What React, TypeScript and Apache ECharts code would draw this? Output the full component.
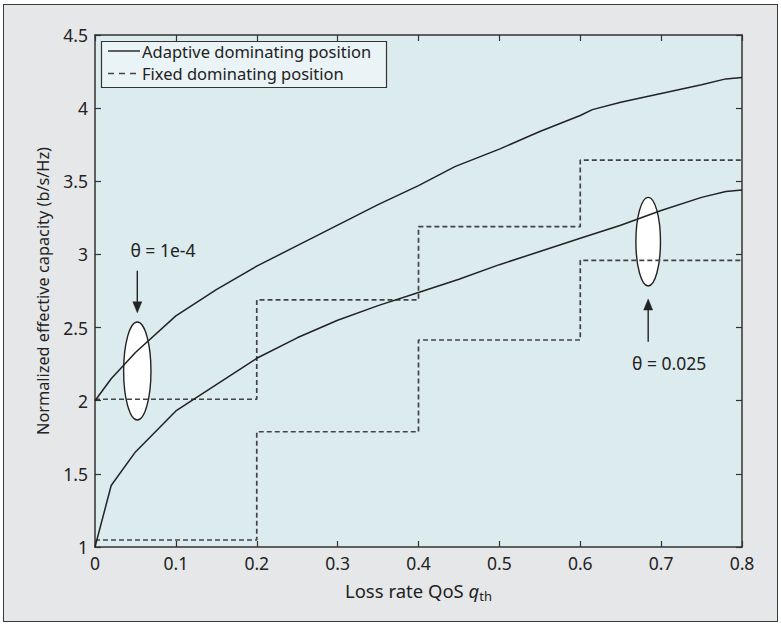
import { useEffect, useRef } from 'react';
import * as echarts from 'echarts';

// Axes
const X_MIN = 0;
const X_MAX = 0.8;
const X_STEP = 0.1;
const Y_MIN = 1;
const Y_MAX = 4.5;
const Y_STEP = 0.5;

// Adaptive dominating position, theta = 1e-4 (upper solid)
const ADAPTIVE_HIGH_Q = [0, 0.02, 0.05, 0.1, 0.15, 0.2, 0.25, 0.3, 0.35, 0.4, 0.445, 0.5, 0.55, 0.6, 0.615, 0.65, 0.7, 0.75, 0.78, 0.8];
const ADAPTIVE_HIGH = [2.0, 2.15, 2.33, 2.58, 2.76, 2.92, 3.06, 3.2, 3.34, 3.47, 3.6, 3.72, 3.84, 3.95, 3.99, 4.04, 4.1, 4.16, 4.2, 4.21];

// Adaptive dominating position, theta = 0.025 (lower solid)
const ADAPTIVE_LOW_Q = [0, 0.02, 0.05, 0.1, 0.15, 0.2, 0.25, 0.3, 0.35, 0.4, 0.45, 0.5, 0.55, 0.6, 0.65, 0.7, 0.75, 0.78, 0.8];
const ADAPTIVE_LOW = [1.0, 1.42, 1.65, 1.93, 2.11, 2.29, 2.43, 2.55, 2.65, 2.74, 2.83, 2.93, 3.02, 3.11, 3.2, 3.3, 3.39, 3.43, 3.44];

// Fixed dominating position (dashed steps)
const FIXED_Q = [0, 0.2, 0.4, 0.6, 0.8];
const FIXED_HIGH = [2.01, 2.69, 3.19, 3.645, 3.645];
const FIXED_LOW = [1.048, 1.788, 2.415, 2.96, 2.96];

// Annotations (data units)
const ELLIPSE_X = [0.0523, 0.684];
const ELLIPSE_Y = [2.203, 3.087];
const ELLIPSE_RX = [0.0169, 0.0152];
const ELLIPSE_RY = [0.335, 0.303];
const ARROW_X = [0.0523, 0.684];
const ARROW_TAIL = [2.889, 2.403];
const ARROW_TIP = [2.601, 2.695];
const THETA_LABELS = ['θ = 1e-4', 'θ = 0.025'];
const LABEL_X = [0.084, 0.71];
const LABEL_Y = [3.03, 2.258];

const LEGEND_NAMES = ['Adaptive dominating position', 'Fixed dominating position'];
const X_TITLE = 'Loss rate QoS ';
const Y_TITLE = 'Normalized effective capacity (b/s/Hz)';

const FONT = 'Noto Sans';
const INK = '#222';
const AXIS = '#333';
const DASH = '#444';

export default function App() {
  const ref = useRef<HTMLDivElement>(null);

  useEffect(() => {
    if (!ref.current) return;
    const chart = echarts.init(ref.current, undefined, { renderer: 'svg' });

    const axisCommon = {
      axisLine: { show: true, onZero: false, lineStyle: { color: AXIS, width: 1.5 } },
      axisTick: { show: true, inside: true, length: 6, lineStyle: { color: AXIS, width: 1.2 } },
      splitLine: { show: false },
    };

    const legendRowY = [51, 73.5];

    const option: any = {
      animation: false,
      textStyle: { fontFamily: FONT },
      grid: {
        left: 95,
        top: 35,
        right: 39,
        bottom: 79,
        show: true,
        backgroundColor: '#dcebee',
        borderWidth: 0,
      },
      xAxis: [
        {
          type: 'value',
          min: X_MIN,
          max: X_MAX,
          interval: X_STEP,
          position: 'bottom',
          ...axisCommon,
          axisLabel: { color: INK, fontSize: 17.5, margin: 7, fontFamily: FONT },
          name: `{a|${X_TITLE}}{q|q}{s|th}`,
          nameLocation: 'middle',
          nameGap: 32,
          nameTextStyle: {
            rich: {
              a: { fontSize: 18.5, color: INK, fontFamily: FONT },
              q: { fontSize: 18.5, color: INK, fontFamily: FONT, fontStyle: 'italic' },
              s: { fontSize: 13, color: INK, fontFamily: FONT, padding: [10, 0, 0, 0] },
            },
          },
        },
        {
          type: 'value',
          min: X_MIN,
          max: X_MAX,
          interval: X_STEP,
          position: 'top',
          ...axisCommon,
          axisLabel: { show: false },
        },
      ],
      yAxis: [
        {
          type: 'value',
          min: Y_MIN,
          max: Y_MAX,
          interval: Y_STEP,
          position: 'left',
          ...axisCommon,
          axisLabel: { color: INK, fontSize: 17.5, margin: 7, fontFamily: FONT },
          name: Y_TITLE,
          nameLocation: 'middle',
          nameGap: 44,
          nameRotate: 90,
          nameTextStyle: { fontSize: 16.3, color: INK, fontFamily: FONT },
        },
        {
          type: 'value',
          min: Y_MIN,
          max: Y_MAX,
          interval: Y_STEP,
          position: 'right',
          ...axisCommon,
          axisLabel: { show: false },
        },
      ],
      series: [
        {
          type: 'custom',
          name: 'ellipses',
          z: 1,
          silent: true,
          data: ELLIPSE_X.map((x, i) => [x, ELLIPSE_Y[i]]),
          renderItem: (params: any, api: any) => {
            const i = params.dataIndex;
            const c = api.coord([ELLIPSE_X[i], ELLIPSE_Y[i]]);
            const s = api.size([ELLIPSE_RX[i], ELLIPSE_RY[i]]);
            return {
              type: 'ellipse',
              shape: { cx: c[0], cy: c[1], rx: s[0], ry: s[1] },
              style: { fill: '#ffffff', stroke: INK, lineWidth: 1.4 },
            };
          },
        },
        {
          type: 'line',
          name: LEGEND_NAMES[1],
          z: 2,
          step: 'end',
          showSymbol: false,
          symbol: 'none',
          data: FIXED_Q.map((q, i) => [q, FIXED_HIGH[i]]),
          lineStyle: { color: DASH, width: 1.7, type: [5, 3] },
        },
        {
          type: 'line',
          name: LEGEND_NAMES[1],
          z: 2,
          step: 'end',
          showSymbol: false,
          symbol: 'none',
          data: FIXED_Q.map((q, i) => [q, FIXED_LOW[i]]),
          lineStyle: { color: DASH, width: 1.7, type: [5, 3] },
        },
        {
          type: 'line',
          name: LEGEND_NAMES[0],
          z: 3,
          showSymbol: false,
          symbol: 'none',
          data: ADAPTIVE_HIGH_Q.map((q, i) => [q, ADAPTIVE_HIGH[i]]),
          lineStyle: { color: INK, width: 1.5 },
        },
        {
          type: 'line',
          name: LEGEND_NAMES[0],
          z: 3,
          showSymbol: false,
          symbol: 'none',
          data: ADAPTIVE_LOW_Q.map((q, i) => [q, ADAPTIVE_LOW[i]]),
          lineStyle: { color: INK, width: 1.5 },
        },
        {
          type: 'custom',
          name: 'arrows',
          z: 4,
          silent: true,
          clip: false,
          data: ARROW_X.map((x, i) => [x, ARROW_TIP[i]]),
          renderItem: (params: any, api: any) => {
            const i = params.dataIndex;
            const tip = api.coord([ARROW_X[i], ARROW_TIP[i]]);
            const tail = api.coord([ARROW_X[i], ARROW_TAIL[i]]);
            const dir = tip[1] > tail[1] ? 1 : -1;
            const headLen = 11;
            const half = 4.5;
            const baseY = tip[1] - dir * headLen;
            const lab = api.coord([LABEL_X[i], LABEL_Y[i]]);
            return {
              type: 'group',
              children: [
                {
                  type: 'line',
                  shape: { x1: tail[0], y1: tail[1], x2: tip[0], y2: baseY },
                  style: { stroke: INK, lineWidth: 1.4 },
                },
                {
                  type: 'polygon',
                  shape: { points: [[tip[0], tip[1]], [tip[0] - half, baseY], [tip[0] + half, baseY]] },
                  style: { fill: INK, stroke: INK, lineWidth: 0.5 },
                },
                {
                  type: 'text',
                  x: lab[0],
                  y: lab[1],
                  style: {
                    text: THETA_LABELS[i],
                    fontSize: 17.5,
                    fontFamily: FONT,
                    fill: INK,
                    align: 'center',
                    verticalAlign: 'middle',
                  },
                },
              ],
            };
          },
        },
      ],
      graphic: [
        {
          type: 'group',
          z: 100,
          children: [
            {
              type: 'rect',
              shape: { x: 101.5, y: 41.5, width: 285, height: 46 },
              style: { fill: '#eaf3f6', stroke: AXIS, lineWidth: 1.2 },
            },
            {
              type: 'line',
              shape: { x1: 108, y1: legendRowY[0], x2: 140, y2: legendRowY[0] },
              style: { stroke: INK, lineWidth: 1.4 },
            },
            {
              type: 'line',
              shape: { x1: 108, y1: legendRowY[1], x2: 140, y2: legendRowY[1] },
              style: { stroke: DASH, lineWidth: 1.6, lineDash: [6, 5] },
            },
            ...LEGEND_NAMES.map((name, i) => ({
              type: 'text',
              x: 142,
              y: legendRowY[i],
              style: {
                text: name,
                fontSize: 16.5,
                fontFamily: FONT,
                fill: INK,
                verticalAlign: 'middle',
                align: 'left',
              },
            })),
          ],
        },
      ],
    };

    chart.setOption(option);
    return () => chart.dispose();
  }, []);

  return (
    <div style={{ position: 'absolute', left: 0, top: 0, width: 781, height: 626, background: '#ffffff' }}>
      <div
        style={{
          position: 'absolute',
          left: 3,
          top: 4,
          width: 775,
          height: 618,
          boxSizing: 'border-box',
          border: '1.5px solid #3a3a3a',
          background: '#e6e7e9',
        }}
      />
      <div ref={ref} style={{ position: 'absolute', left: 0, top: 0, width: 781, height: 626 }} />
    </div>
  );
}
